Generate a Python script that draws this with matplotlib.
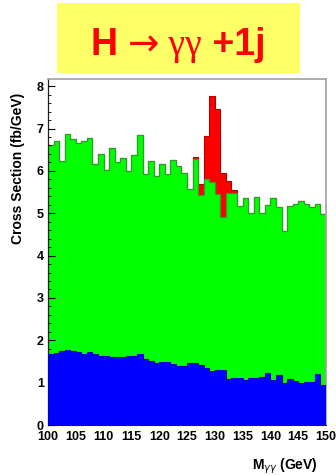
import matplotlib
matplotlib.use('Agg')
import matplotlib.pyplot as plt
import numpy as np
from matplotlib.patches import Rectangle

# ---- data ----
bin_edges = list(range(100, 151, 1))
background_total = [6.60, 6.70, 6.23, 6.88, 6.76, 6.67, 6.70, 6.78, 6.17, 6.41,
                    6.01, 6.55, 6.21, 6.31, 6.00, 6.37, 6.84, 5.92, 6.24, 5.88,
                    6.17, 5.93, 6.25, 6.11, 5.96, 5.58, 6.29, 5.42, 5.80, 5.74,
                    5.46, 4.91, 5.48, 5.48, 5.17, 5.36, 5.00, 5.39, 5.01, 5.20,
                    5.37, 5.14, 4.58, 5.18, 5.21, 5.29, 5.21, 5.14, 5.21, 4.98]
background_blue = [1.68, 1.71, 1.75, 1.76, 1.75, 1.73, 1.67, 1.73, 1.68, 1.64,
                   1.63, 1.61, 1.60, 1.61, 1.64, 1.63, 1.67, 1.57, 1.52, 1.46,
                   1.49, 1.49, 1.45, 1.39, 1.39, 1.47, 1.46, 1.42, 1.34, 1.27,
                   1.31, 1.30, 1.08, 1.10, 1.10, 1.06, 1.10, 1.10, 1.14, 1.22,
                   1.06, 1.18, 0.98, 1.08, 1.04, 0.98, 1.02, 1.02, 1.20, 0.94]
signal = [0]*26 + [0.04, 0.28, 1.02, 2.04, 2.01, 1.03, 0.28, 0.06] + [0]*16
x_ticks = [100, 105, 110, 115, 120, 125, 130, 135, 140, 145, 150]
y_ticks = [0, 1, 2, 3, 4, 5, 6, 7, 8]

W, H = 336, 475
fig = plt.figure(figsize=(W/100, H/100), dpi=100)

# title box
fig.patches.append(Rectangle((57/W, 1-73/H), (300-57)/W, (73-3)/H,
                             transform=fig.transFigure, facecolor='#FFFF66',
                             edgecolor='none', zorder=0))

ax = fig.add_axes([48/W, 1-425/H, (326-48)/W, (425-79)/H])
edges = np.array(bin_edges)
tot = np.array(background_total)
sig = np.array(signal)
blue = np.array(background_blue)

ax.stairs(tot + sig, edges, fill=True, color='#FF0000', zorder=1)
ax.stairs(tot + sig, edges, fill=False, color='#B00000', lw=0.8, zorder=1.5)
ax.stairs(tot, edges, fill=True, color='#00FF00', zorder=2)
ax.stairs(tot, edges, fill=False, color='#2E9E2E', lw=0.9, zorder=2.5)
ax.stairs(blue, edges, fill=True, color='#0000FF', zorder=3)
ax.stairs(blue, edges, fill=False, color='#0000C0', lw=0.8, zorder=3.5)

ax.set_xlim(100, 150)
ax.set_ylim(0, 8.17)
ax.set_xticks(x_ticks)
ax.set_yticks(y_ticks)
ax.set_yticks(np.arange(0, 8.01, 0.2), minor=True)
ax.tick_params(axis='y', which='major', direction='in', length=5, width=0.8, pad=3,
               labelsize=9)
ax.tick_params(axis='y', which='minor', direction='in', length=2.5, width=0.6)
ax.tick_params(axis='x', which='major', direction='in', length=0, pad=4.5, labelsize=9)
for lab in ax.get_xticklabels() + ax.get_yticklabels():
    lab.set_fontfamily('Liberation Sans')
    lab.set_fontweight('bold')
for s in ['top', 'right']:
    ax.spines[s].set_color('#A0A0A0')
    ax.spines[s].set_linewidth(1.2)
ax.spines['left'].set_color('#202020')
ax.spines['left'].set_linewidth(0.9)
ax.spines['bottom'].set_color('#202020')
ax.set_axisbelow(False)

# y label
fig.text(18/W, 1-168/H, 'Cross Section (fb/GeV)', rotation=90, ha='center',
         va='center', fontsize=10, fontweight='bold', family='Liberation Sans')
# x label
fig.text(318/W, 1-466/H, r'M$_{\gamma\gamma}$ (GeV)', ha='right', va='center',
         fontsize=10, fontweight='bold', family='Liberation Sans')

# title pieces
renderer = fig.canvas.get_renderer()
pieces = [("H ", ['Liberation Sans'], 'bold'),
          ("\u2192", ['DejaVu Sans'], 'normal'),
          (" \u03b3\u03b3", ['Liberation Serif'], 'normal'),
          (" +1j", ['Liberation Sans'], 'bold')]
fs = 27
texts = []
total_w = 0
for s, fam, wt in pieces:
    t = fig.text(0, 1-55/H, s, fontsize=fs, family=fam, fontweight=wt,
                 color='#FF0000', va='baseline', ha='left')
    bb = t.get_window_extent(renderer)
    texts.append((t, bb.width))
    total_w += bb.width
xc = 178
x0 = xc - total_w/2
for t, w in texts:
    t.set_x(x0/W)
    x0 += w

fig.savefig('out.png', dpi=100)
